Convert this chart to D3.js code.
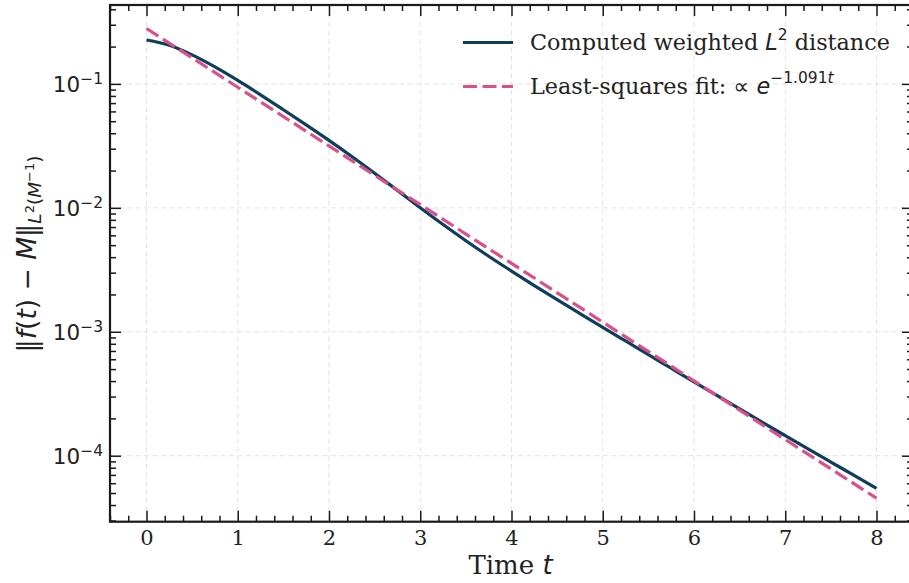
<!DOCTYPE html>
<html>
<head>
<meta charset="utf-8">
<script src="https://cdn.jsdelivr.net/npm/d3@7"></script>
<style>
  body { margin: 0; background: #ffffff; }
  svg { display: block; }
</style>
</head>
<body>
<svg id="chart" width="909" height="583"></svg>
<script>
// Computed weighted L2 distance ||f(t) - M|| sampled every 0.25 time units
const timeSamples = [0, 0.25, 0.5, 0.75, 1.0, 1.25, 1.5, 1.75, 2.0, 2.25, 2.5, 2.75, 3.0, 3.25, 3.5, 3.75, 4.0,
                     4.25, 4.5, 4.75, 5.0, 5.25, 5.5, 5.75, 6.0, 6.25, 6.5, 6.75, 7.0, 7.25, 7.5, 7.75, 8.0];
const distanceValues = [0.2259, 0.2051, 0.1714, 0.1371, 0.1067, 0.0817, 0.0619, 0.0467, 0.0350,
                        0.02594, 0.01901, 0.01384, 0.01002, 0.00733, 0.00543, 0.00407, 0.00309,
                        0.00236, 0.001816, 0.001403, 0.001086, 0.000843, 0.000655, 0.000508, 0.000394,
                        0.000307, 0.000239, 0.000186, 0.0001452, 0.0001135, 0.0000889, 0.0000697, 0.0000546];

// Least-squares exponential fit, proportional to exp(-1.091 t)
const fitTimes = [0, 1, 2, 3, 4, 5, 6, 7, 8];
const fitValues = [0.280, 0.0940, 0.03159, 0.01061, 0.003564, 0.001197, 0.000402, 0.0001351, 0.0000454];

const xTickValues = [0, 1, 2, 3, 4, 5, 6, 7, 8];
const yTickExponents = [-1, -2, -3, -4];
const seriesLabels = ["Computed weighted", "Least-squares fit:"];

const svg = d3.select("#chart");
const margin = { left: 110, top: 5, right: 913, bottom: 521.7 };

const x = d3.scaleLinear().domain([-0.4, 8.4]).range([margin.left, margin.right]);

// log-scale limits padded by 5% of the decades spanned
const allVals = distanceValues.concat(fitValues);
const lo = Math.log10(d3.min(allVals)), hi = Math.log10(d3.max(allVals));
const pad = (hi - lo) * 0.05;
const y = d3.scaleLog().domain([Math.pow(10, lo - pad), Math.pow(10, hi + pad)]).range([margin.bottom, margin.top]);

const spineColor = "#1a1a1a";
const textColor = "#222222";
const solidColor = "#0d3e5c";
const dashColor = "#d9508a";

// dashed grid at major ticks
const grid = svg.append("g");
xTickValues.forEach(v => {
  grid.append("line").attr("x1", x(v)).attr("x2", x(v)).attr("y1", margin.top).attr("y2", margin.bottom)
    .attr("stroke", "#e0e0e0").attr("stroke-width", 0.9).attr("stroke-dasharray", "5,3.5");
});
yTickExponents.forEach(e => {
  const v = Math.pow(10, e);
  grid.append("line").attr("x1", margin.left).attr("x2", margin.right).attr("y1", y(v)).attr("y2", y(v))
    .attr("stroke", "#e0e0e0").attr("stroke-width", 0.9).attr("stroke-dasharray", "5,3.5");
});

// data lines
const solidLine = d3.line().x((d, i) => x(timeSamples[i])).y(d => y(d)).curve(d3.curveMonotoneX);
svg.append("path").attr("d", solidLine(distanceValues))
  .attr("fill", "none").attr("stroke", solidColor).attr("stroke-width", 3.2);

const fitLine = d3.line().x((d, i) => x(fitTimes[i])).y(d => y(d));
svg.append("path").attr("d", fitLine(fitValues))
  .attr("fill", "none").attr("stroke", dashColor).attr("stroke-width", 3.2).attr("stroke-dasharray", "14,5.5");

// inward ticks on all four sides
const majorLen = 11, minorLen = 6;
const xMinor = d3.range(-0.4, 8.41, 0.2).filter(v => Math.abs(v - Math.round(v)) > 1e-6);
const yMinor = [];
for (let e = -5; e <= 0; e++) for (let m = 2; m <= 9; m++) {
  const v = m * Math.pow(10, e);
  if (v >= y.domain()[0] && v <= y.domain()[1]) yMinor.push(v);
}
const yMajorVals = yTickExponents.map(e => Math.pow(10, e));

const xBottom = svg.append("g").attr("transform", `translate(0,${margin.bottom})`)
  .call(d3.axisBottom(x).tickValues(xTickValues).tickSizeInner(-majorLen).tickSizeOuter(0).tickFormat(d3.format("d")));
svg.append("g").attr("transform", `translate(0,${margin.bottom})`)
  .call(d3.axisBottom(x).tickValues(xMinor).tickSizeInner(-minorLen).tickSizeOuter(0).tickFormat(""));
svg.append("g").attr("transform", `translate(0,${margin.top})`)
  .call(d3.axisTop(x).tickValues(xTickValues).tickSizeInner(-majorLen).tickSizeOuter(0).tickFormat(""));
svg.append("g").attr("transform", `translate(0,${margin.top})`)
  .call(d3.axisTop(x).tickValues(xMinor).tickSizeInner(-minorLen).tickSizeOuter(0).tickFormat(""));
svg.append("g").attr("transform", `translate(${margin.left},0)`)
  .call(d3.axisLeft(y).tickValues(yMajorVals).tickSizeInner(-majorLen).tickSizeOuter(0).tickFormat(""));
svg.append("g").attr("transform", `translate(${margin.left},0)`)
  .call(d3.axisLeft(y).tickValues(yMinor).tickSizeInner(-minorLen).tickSizeOuter(0).tickFormat(""));
svg.append("g").attr("transform", `translate(${margin.right},0)`)
  .call(d3.axisRight(y).tickValues(yMajorVals).tickSizeInner(-majorLen).tickSizeOuter(0).tickFormat(""));
svg.append("g").attr("transform", `translate(${margin.right},0)`)
  .call(d3.axisRight(y).tickValues(yMinor).tickSizeInner(-minorLen).tickSizeOuter(0).tickFormat(""));

svg.selectAll(".domain").remove();
svg.selectAll(".tick line").attr("stroke", spineColor).attr("stroke-width", 1.5);

// frame
svg.append("rect").attr("x", margin.left).attr("y", margin.top)
  .attr("width", margin.right - margin.left).attr("height", margin.bottom - margin.top)
  .attr("fill", "none").attr("stroke", spineColor).attr("stroke-width", 2.2);

// x tick labels
xBottom.selectAll(".tick text")
  .attr("font-family", "DejaVu Serif").attr("font-size", 21).attr("fill", textColor)
  .attr("dy", null).attr("y", 23.5);

// y tick labels 10^n
yTickExponents.forEach(e => {
  const t = svg.append("text").attr("x", 103).attr("y", y(Math.pow(10, e)) + 8.5)
    .attr("text-anchor", "end").attr("font-family", "DejaVu Sans").attr("font-size", 21.5).attr("fill", textColor);
  t.append("tspan").text("10");
  t.append("tspan").attr("dy", -8.5).attr("font-size", 15.5).text("\u2212" + Math.abs(e));
});

// x axis label
const xl = svg.append("text").attr("x", (margin.left + margin.right) / 2 - 1).attr("y", 574)
  .attr("text-anchor", "middle").attr("font-family", "DejaVu Serif").attr("font-size", 26).attr("fill", textColor);
xl.append("tspan").text("Time ");
xl.append("tspan").attr("font-family", "DejaVu Sans").attr("font-style", "italic").text("t");

// y axis label
const yl = svg.append("text").attr("transform", "translate(36,254) rotate(-90)")
  .attr("text-anchor", "middle").attr("font-family", "DejaVu Sans").attr("font-size", 26.5).attr("fill", textColor);
yl.append("tspan").text("\u2016");
yl.append("tspan").attr("font-style", "italic").text("f");
yl.append("tspan").text("(");
yl.append("tspan").attr("font-style", "italic").text("t");
yl.append("tspan").text(") \u2212 ");
yl.append("tspan").attr("font-style", "italic").text("M");
yl.append("tspan").text("\u2016");
yl.append("tspan").attr("dy", 5).attr("font-size", 18.5).attr("font-style", "italic").text("L");
yl.append("tspan").attr("dy", -7).attr("font-size", 13).text("2");
yl.append("tspan").attr("dy", 7).attr("font-size", 18.5).text("(");
yl.append("tspan").attr("font-size", 18.5).attr("font-style", "italic").text("M");
yl.append("tspan").attr("dy", -7).attr("font-size", 13).text("\u22121");
yl.append("tspan").attr("dy", 7).attr("font-size", 18.5).text(")");

// legend
const legend = svg.append("g");
legend.append("line").attr("x1", 463).attr("x2", 513).attr("y1", 42.5).attr("y2", 42.5)
  .attr("stroke", solidColor).attr("stroke-width", 3.2);
legend.append("line").attr("x1", 463).attr("x2", 513).attr("y1", 86.5).attr("y2", 86.5)
  .attr("stroke", dashColor).attr("stroke-width", 3.2).attr("stroke-dasharray", "14,5.5");

const l1 = legend.append("text").attr("x", 530).attr("y", 49.5)
  .attr("font-family", "DejaVu Serif").attr("font-size", 22.3).attr("fill", textColor);
l1.append("tspan").text(seriesLabels[0] + " ");
l1.append("tspan").attr("font-family", "DejaVu Sans").attr("font-style", "italic").text("L");
l1.append("tspan").attr("font-family", "DejaVu Sans").attr("font-size", 15.5).attr("dy", -9.5).text("2");
l1.append("tspan").attr("dy", 9.5).text(" distance");

const l2 = legend.append("text").attr("x", 530).attr("y", 93.5)
  .attr("font-family", "DejaVu Serif").attr("font-size", 22.3).attr("fill", textColor);
l2.append("tspan").text(seriesLabels[1] + " ");
l2.append("tspan").attr("font-family", "DejaVu Sans").text(" \u221d ");
l2.append("tspan").attr("font-family", "DejaVu Sans").attr("font-style", "italic").text("e");
l2.append("tspan").attr("font-family", "DejaVu Sans").attr("font-size", 15.5).attr("dy", -11).text("\u22121.091");
l2.append("tspan").attr("font-family", "DejaVu Sans").attr("font-size", 15.5).attr("font-style", "italic").text("t");
</script>
</body>
</html>
